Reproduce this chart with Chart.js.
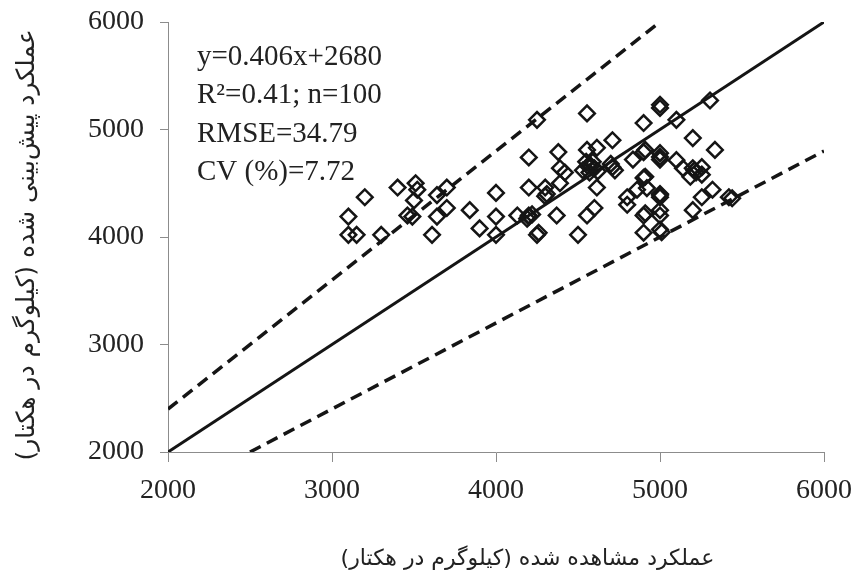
<!DOCTYPE html>
<html>
<head>
<meta charset="utf-8">
<script src="https://cdn.jsdelivr.net/npm/chart.js@4.4.1/dist/chart.umd.min.js"></script>
<style>
  html, body { margin: 0; padding: 0; background: #fff; }
  #wrap { width: 854px; height: 571px; }
</style>
</head>
<body>
<div id="wrap"><canvas id="grafico" width="854" height="571" dir="rtl"></canvas></div>
<script>
// observed yield (x) and predicted yield (y), kg/ha
var observado = [
  3100, 3100, 3150, 3200, 3300, 3400, 3460, 3490, 3500, 3510,
  3520, 3610, 3640, 3640, 3700, 3700, 3840, 3900, 4000, 4000,
  4000, 4130, 4190, 4200, 4220, 4200, 4200, 4250, 4250, 4260,
  4300, 4310, 4300, 4370, 4380, 4390, 4390, 4420, 4500, 4530,
  4550, 4555, 4555, 4555, 4570, 4580, 4600, 4600, 4615, 4615,
  4620, 4700, 4710, 4710, 4725, 4800, 4800, 4835, 4860, 4900,
  4900, 4900, 4910, 4910, 4900, 4910, 4900, 4920, 5000, 5000,
  5000, 5000, 5000, 5000, 5000, 5000, 5000, 5000, 5000, 5010,
  5100, 5100, 5140, 5185, 5200, 5200, 5200, 5255, 5255, 5255,
  5305, 5320, 5335, 5420, 5440, 4560, 4590, 4200, 5210, 5220
];
var predito = [
  4190, 4020, 4020, 4370, 4020, 4460, 4200, 4190, 4340, 4500,
  4440, 4020, 4390, 4190, 4460, 4270, 4250, 4080, 4410, 4190,
  4020, 4200, 4170, 4200, 4210, 4460, 4740, 5090, 4020, 4040,
  4460, 4400, 4380, 4200, 4790, 4640, 4500, 4600, 4020, 4620,
  4700, 5150, 4810, 4200, 4600, 4660, 4270, 4640, 4830, 4460,
  4610, 4680, 4900, 4650, 4620, 4370, 4300, 4720, 4440, 5060,
  4790, 4550, 4560, 4810, 4200, 4220, 4040, 4455, 5200, 5230,
  4780, 4720, 4745, 4400, 4370, 4390, 4250, 4200, 4070, 4045,
  5090, 4715, 4640, 4560, 4920, 4640, 4250, 4650, 4580, 4370,
  5270, 4440, 4810, 4370, 4360, 4660, 4700, 4190, 4620, 4600
];

// 1:1 line and +-20% lines
var linha_11 = [[2000, 2000], [6000, 6000]];
var linha_sup = [[2000, 2400], [5000, 6000]];
var linha_inf = [[2500, 2000], [6000, 4800]];

var ticks_x = [2000, 3000, 4000, 5000, 6000];
var ticks_y = [2000, 3000, 4000, 5000, 6000];

var texto_stats = ['y=0.406x+2680', 'R\u00B2=0.41; n=100', 'RMSE=34.79', 'CV (%)=7.72'];

var titulo_x = 'عملکرد مشاهده شده (کیلوگرم در هکتار)         ';
var titulo_y = '  عملکرد پیش‌بینی شده (کیلوگرم در هکتار)';

var pontos = observado.map(function (v, i) { return { x: v, y: predito[i] }; });
function paraXY(arr) { return arr.map(function (p) { return { x: p[0], y: p[1] }; }); }

var corTinta = '#151515';
var corEixo = '#8c8c8c';

const plugin_texto = {
  id: 'texto_stats',
  afterDatasetsDraw(chart) {
    const ctx = chart.ctx;
    ctx.save();
    ctx.direction = 'ltr';
    ctx.fillStyle = '#222';
    ctx.font = '29px "Liberation Serif"';
    ctx.textAlign = 'left';
    ctx.textBaseline = 'alphabetic';
    var x0 = chart.chartArea.left + 29;
    for (var i = 0; i < texto_stats.length; i++) {
      ctx.fillText(texto_stats[i], x0, chart.chartArea.top + 43 + i * 38.3);
    }
    ctx.restore();
  }
};

const grafico = document.getElementById('grafico');

var myChart = new Chart(grafico, {
  type: 'scatter',
  data: {
    datasets: [{
      label: 'pontos',
      data: pontos,
      pointStyle: 'rectRot',
      pointRadius: 7.8,
      borderWidth: 2.5,
      borderColor: corTinta,
      backgroundColor: 'rgba(0,0,0,0)',
      order: 1
    }, {
      label: '1:1',
      data: paraXY(linha_11),
      showLine: true,
      pointRadius: 0,
      borderColor: corTinta,
      borderWidth: 3,
      order: 2
    }, {
      label: '+20%',
      data: paraXY(linha_sup),
      showLine: true,
      pointRadius: 0,
      borderColor: corTinta,
      borderWidth: 3.5,
      borderDash: [12, 7],
      order: 2
    }, {
      label: '-20%',
      data: paraXY(linha_inf),
      showLine: true,
      pointRadius: 0,
      borderColor: corTinta,
      borderWidth: 3.5,
      borderDash: [12, 7],
      order: 2
    }]
  },
  options: {
    responsive: false,
    animation: false,
    devicePixelRatio: 1,
    layout: { padding: { top: 22, right: 30, left: 0, bottom: 0 } },
    plugins: {
      legend: { display: false },
      tooltip: { enabled: false }
    },
    scales: {
      x: {
        type: 'linear',
        min: 2000,
        max: 6000,
        afterBuildTicks: function (axis) { axis.ticks = ticks_x.map(function (v) { return { value: v }; }); },
        afterFit: function (axis) {
          axis.height = 119;
          axis.paddingLeft = 0;
          axis.paddingRight = 0;
        },
        ticks: {
          color: '#222',
          font: { family: '"Liberation Serif"', size: 28 },
          padding: 12,
          maxRotation: 0,
          callback: function (v) { return String(v); }
        },
        grid: { drawOnChartArea: false, drawTicks: true, tickLength: 10, color: corEixo },
        border: { color: corEixo, width: 1 },
        title: {
          display: true,
          text: titulo_x,
          color: '#222',
          font: { family: '"DejaVu Sans"', size: 22 },
          padding: { top: 0, bottom: -1 }
        }
      },
      y: {
        type: 'linear',
        min: 2000,
        max: 6000,
        afterBuildTicks: function (axis) { axis.ticks = ticks_y.map(function (v) { return { value: v }; }); },
        afterFit: function (axis) {
          axis.width = 168;
          axis.paddingTop = 0;
          axis.paddingBottom = 0;
        },
        ticks: {
          color: '#222',
          font: { family: '"Liberation Serif"', size: 28 },
          padding: 16,
          callback: function (v) { return String(v); }
        },
        grid: { drawOnChartArea: false, drawTicks: true, tickLength: 8, color: corEixo },
        border: { color: corEixo, width: 1 },
        title: {
          display: true,
          text: titulo_y,
          color: '#222',
          font: { family: '"DejaVu Sans"', size: 25 },
          padding: { top: 12, bottom: 0 }
        }
      }
    }
  },
  plugins: [plugin_texto]
});
</script>
</body>
</html>
